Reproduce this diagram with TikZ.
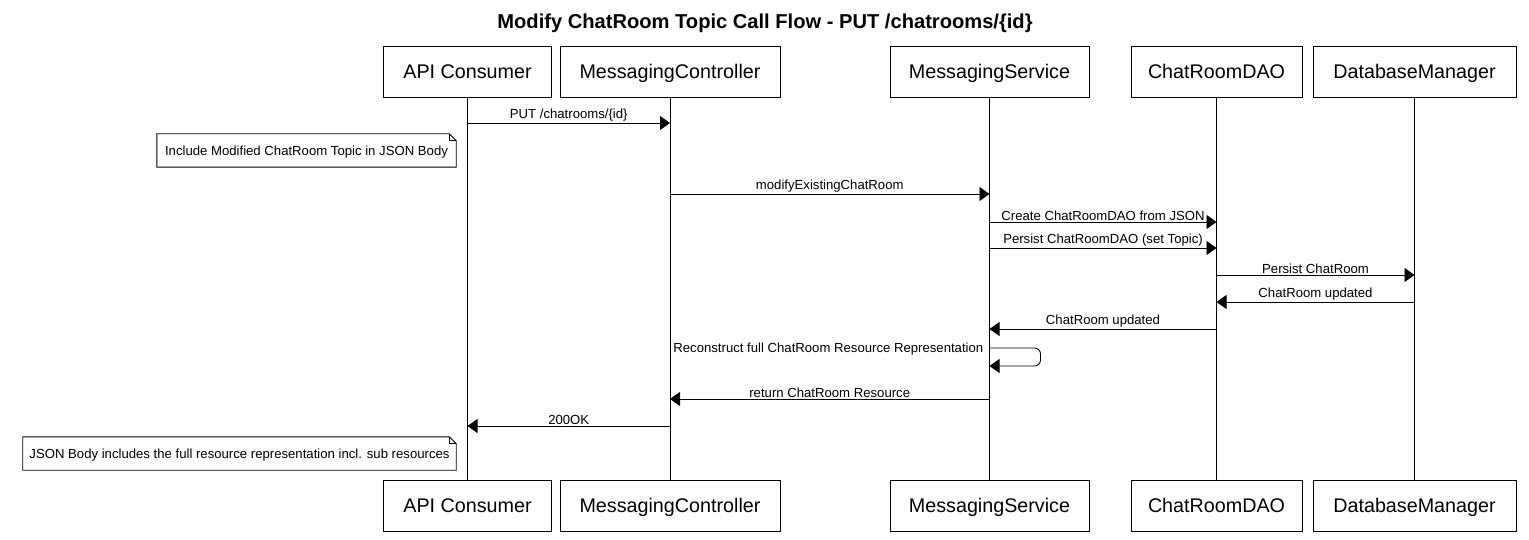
\documentclass[tikz,border=0pt]{standalone}
\usepackage{fontspec}
\setmainfont{Liberation Sans}
\usetikzlibrary{arrows.meta,calc}
\tikzset{
  actor/.style={draw, line width=0.9bp, minimum height=51bp, inner sep=0pt, text height=16bp, text depth=2bp, font=\fontsize{19.8}{22}\selectfont},
  lifeline/.style={line width=0.9bp},
  msg/.style={-{Triangle[length=10bp,width=14bp]}, line width=0.9bp},
  msglabel/.style={font=\fontsize{13.2}{15}\selectfont, inner sep=1bp},
  notebox/.style={font=\fontsize{13.2}{15}\selectfont, minimum height=33bp, inner xsep=6bp, inner ysep=0pt, text height=11bp, text depth=1bp}
}
% note outline with folded corner
\newcommand{\notefold}[1]{%
  \draw[lifeline] (#1.north west) -- ($(#1.north east)+(-7,0)$) -- ($(#1.north east)+(0,7)$)
    -- (#1.south east) -- (#1.south west) -- cycle;
  \draw[lifeline] ($(#1.north east)+(-7,0)$) -- ($(#1.north east)+(-7,7)$) -- ($(#1.north east)+(0,7)$);
}

\begin{document}
\begin{tikzpicture}[x=1bp, y=-1bp]
        \useasboundingbox[fill=white] (0,0) rectangle (1529,540);
        \node[font=\bfseries\fontsize{20.2}{24}\selectfont] (title) at (765,23) {Modify ChatRoom Topic Call Flow - PUT /chatrooms/\{id\}};
        % participants, top and bottom
        \node[actor, minimum width=168bp] (api) at (467.5,71.5) {API Consumer};
        \node[actor, minimum width=220bp] (ctrl) at (670,71.5) {MessagingController};
        \node[actor, minimum width=199bp] (svc) at (989.5,71.5) {MessagingService};
        \node[actor, minimum width=171bp] (dao) at (1216.5,71.5) {ChatRoomDAO};
        \node[actor, minimum width=203bp] (dbm) at (1414.5,71.5) {DatabaseManager};
        \node[actor, minimum width=168bp] (apiB) at (467.5,505.5) {API Consumer};
        \node[actor, minimum width=220bp] (ctrlB) at (670,505.5) {MessagingController};
        \node[actor, minimum width=199bp] (svcB) at (989.5,505.5) {MessagingService};
        \node[actor, minimum width=171bp] (daoB) at (1216.5,505.5) {ChatRoomDAO};
        \node[actor, minimum width=203bp] (dbmB) at (1414.5,505.5) {DatabaseManager};
        % lifelines
        \draw[lifeline] (api) -- (apiB);
        \draw[lifeline] (ctrl) -- (ctrlB);
        \draw[lifeline] (svc) -- (svcB);
        \draw[lifeline] (dao) -- (daoB);
        \draw[lifeline] (dbm) -- (dbmB);
        % notes
        \node[notebox, minimum width=299bp] (note1) at (306.5,150.5) {Include Modified ChatRoom Topic in JSON Body};
        \notefold{note1}
        \node[notebox, minimum width=433bp] (note2) at (239.5,453.5) {JSON Body includes the full resource representation incl. sub resources};
        \notefold{note2}
        % messages
        \draw[msg] (api.south |- 0,123) -- node[msglabel, above]{PUT /chatrooms/\{id\}} (ctrl.south |- 0,123);
        \draw[msg] (ctrl.south |- 0,194) -- node[msglabel, above]{modifyExistingChatRoom} (svc.south |- 0,194);
        \draw[msg] (svc.south |- 0,222) -- node[msglabel, above]{Create ChatRoomDAO from JSON} (dao.south |- 0,222);
        \draw[msg] (svc.south |- 0,248) -- node[msglabel, above]{Persist ChatRoomDAO (set Topic)} (dao.south |- 0,248);
        \draw[msg] (dao.south |- 0,275) -- node[msglabel, above]{Persist ChatRoom} (dbm.south |- 0,275);
        \draw[msg] (dbm.south |- 0,302) -- node[msglabel, above]{ChatRoom updated} (dao.south |- 0,302);
        \draw[msg] (dao.south |- 0,329) -- node[msglabel, above]{ChatRoom updated} (svc.south |- 0,329);
        \draw[msg, rounded corners=6bp] (svc.south |- 0,348) -- ++(51,0) -- ++(0,18) -- (svc.south |- 0,366);
        \node[msglabel, anchor=east] (selfmsg) at ($(svc.south |- 0,349)+(-5,0)$) {Reconstruct full ChatRoom Resource Representation};
        \draw[msg] (svc.south |- 0,399) -- node[msglabel, above]{return ChatRoom Resource} (ctrl.south |- 0,399);
        \draw[msg] (ctrl.south |- 0,426) -- node[msglabel, above]{200OK} (api.south |- 0,426);
      \end{tikzpicture}
\end{document}
